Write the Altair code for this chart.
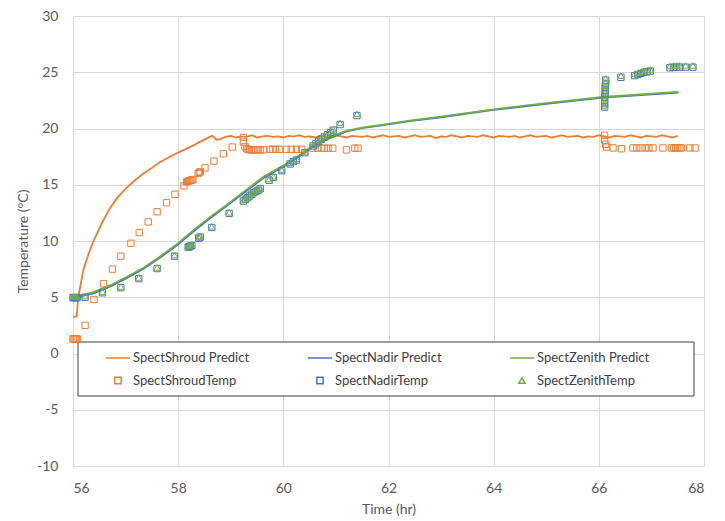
import altair as alt
import pandas as pd

FONT = "Lato"

# ---------------- Predicted lines ----------------
shroud_pred_x = [56.0, 56.07, 56.1, 56.2, 56.3, 56.39, 56.55, 56.7, 56.85, 57.02, 57.18, 57.34,
                 57.5, 57.65, 57.81, 57.97, 58.13, 58.29, 58.45, 58.6, 58.65, 58.73,
                 58.8, 58.9, 59.0, 59.1, 59.2, 59.3, 59.4, 59.5, 59.6, 59.7,
                 59.8, 59.9, 60.0, 60.1, 60.2, 60.3, 60.4, 60.5, 60.6, 60.7,
                 60.8, 60.9, 61.0, 61.1, 61.2, 61.3, 61.4, 61.5, 61.6, 61.7,
                 61.8, 61.9, 62.0, 62.1, 62.2, 62.3, 62.4, 62.5, 62.6, 62.7,
                 62.8, 62.9, 63.0, 63.1, 63.2, 63.3, 63.4, 63.5, 63.6, 63.7,
                 63.8, 63.9, 64.0, 64.1, 64.2, 64.3, 64.4, 64.5, 64.6, 64.7,
                 64.8, 64.9, 65.0, 65.1, 65.2, 65.3, 65.4, 65.5, 65.6, 65.7,
                 65.8, 65.9, 66.0, 66.1, 66.2, 66.3, 66.4, 66.5, 66.6, 66.7,
                 66.8, 66.9, 67.0, 67.1, 67.2, 67.3, 67.4, 67.5]
shroud_pred_y = [3.25, 3.3, 5.0, 7.5, 8.9, 10.0, 11.6, 12.9, 13.9, 14.75, 15.4, 16.0,
                 16.5, 17.0, 17.4, 17.8, 18.15, 18.5, 18.9, 19.25, 19.35, 19.0,
                 19.05, 19.25, 19.35, 19.2, 19.3, 19.25, 19.4, 19.2, 19.3, 19.35,
                 19.25, 19.3, 19.2, 19.35, 19.3, 19.4, 19.25, 19.3, 19.2, 19.35,
                 19.3, 19.25, 19.4, 19.3, 19.2, 19.35, 19.3, 19.25, 19.35, 19.2,
                 19.3, 19.4, 19.25, 19.3, 19.35, 19.2, 19.3, 19.4, 19.25, 19.3,
                 19.35, 19.15, 19.3, 19.25, 19.4, 19.3, 19.2, 19.35, 19.3, 19.25,
                 19.4, 19.3, 19.2, 19.35, 19.3, 19.25, 19.35, 19.2, 19.3, 19.4,
                 19.25, 19.3, 19.35, 19.2, 19.3, 19.4, 19.25, 19.3, 19.35, 19.2,
                 19.3, 19.25, 19.4, 19.3, 19.2, 19.35, 19.3, 19.25, 19.4, 19.3,
                 19.2, 19.35, 19.3, 19.25, 19.4, 19.3, 19.2, 19.35]

env_pred_x = [56.0, 56.39, 56.7, 57.02, 57.35, 57.65, 57.97, 58.29, 58.6, 58.92, 59.17, 59.62,
              60.0, 60.3, 60.57, 60.89, 61.2, 61.52, 61.84, 62.4, 63.0, 64.0, 65.0, 66.08, 67.51]
nadir_pred_y = [4.95, 5.35, 5.95, 6.7, 7.55, 8.5, 9.6, 10.85, 12.0, 13.1, 14.0, 15.6,
                16.6, 17.5, 18.4, 19.15, 19.75, 20.05, 20.25, 20.65, 21.0, 21.65, 22.2, 22.75, 23.2]
zenith_pred_y = [5.0, 5.45, 6.05, 6.8, 7.65, 8.6, 9.7, 10.95, 12.1, 13.2, 14.1, 15.7,
                 16.7, 17.6, 18.5, 19.25, 19.8, 20.1, 20.3, 20.7, 21.05, 21.7, 22.25, 22.8, 23.25]

# ---------------- Measured temperatures ----------------
shroud_temp_x = [56.0, 56.02, 56.04, 56.06, 56.08, 56.23, 56.4, 56.58, 56.75, 56.91, 57.1,
                 57.26, 57.43, 57.6, 57.78, 57.94, 58.11, 58.16, 58.18, 58.2, 58.22, 58.24,
                 58.26, 58.28, 58.38, 58.4, 58.42, 58.51, 58.68, 58.86, 59.03, 59.24, 59.24,
                 59.27, 59.3, 59.33, 59.36, 59.4, 59.44, 59.48, 59.52, 59.56, 59.62, 59.75,
                 59.8, 59.85, 59.93, 60.06, 60.15, 60.25, 60.35, 60.56, 60.65, 60.72, 60.78,
                 60.85, 60.94, 61.2, 61.36, 61.42, 66.11, 66.11, 66.13, 66.15, 66.27, 66.43,
                 66.65, 66.72, 66.8, 66.88, 66.95, 67.03, 67.22, 67.38, 67.42, 67.46, 67.5,
                 67.54, 67.57, 67.73, 67.83]
shroud_temp_y = [1.3, 1.3, 1.3, 1.3, 1.3, 2.5, 4.8, 6.2, 7.5, 8.65, 9.8,
                 10.75, 11.7, 12.6, 13.4, 14.15, 14.9, 15.25, 15.3, 15.33, 15.37, 15.4,
                 15.43, 15.46, 16.0, 16.1, 16.15, 16.5, 17.1, 17.75, 18.35, 19.2, 18.8,
                 18.4, 18.2, 18.15, 18.1, 18.1, 18.1, 18.1, 18.1, 18.1, 18.1, 18.15,
                 18.15, 18.15, 18.15, 18.15, 18.15, 18.15, 18.15, 18.25, 18.25, 18.25, 18.25,
                 18.25, 18.25, 18.1, 18.25, 18.25, 19.4, 18.95, 18.6, 18.35, 18.27, 18.2,
                 18.27, 18.27, 18.27, 18.27, 18.27, 18.27, 18.27, 18.27, 18.27, 18.27, 18.27,
                 18.27, 18.27, 18.27, 18.27]

env_temp_x = [56.0, 56.02, 56.04, 56.06, 56.08, 56.23, 56.56, 56.91, 57.25, 57.6, 57.93,
              58.19, 58.21, 58.23, 58.26, 58.39, 58.42, 58.64, 58.97, 59.24, 59.28, 59.32,
              59.36, 59.4, 59.44, 59.48, 59.52, 59.56, 59.73, 59.81, 59.97, 60.13, 60.19,
              60.25, 60.41, 60.57, 60.62, 60.67, 60.72, 60.78, 60.84, 60.9, 60.95, 61.08,
              61.4, 66.11, 66.11, 66.11, 66.11, 66.12, 66.12, 66.12, 66.13, 66.13, 66.42,
              66.68, 66.74, 66.8, 66.86, 66.92, 66.98, 67.35, 67.42, 67.48, 67.54, 67.65,
              67.79]
nadir_temp_y = [4.97, 4.97, 4.97, 4.97, 4.97, 5.0, 5.4, 5.85, 6.65, 7.55, 8.65,
                9.45, 9.5, 9.55, 9.6, 10.25, 10.35, 11.2, 12.45, 13.55, 13.7, 13.85,
                14.0, 14.15, 14.3, 14.4, 14.5, 14.65, 15.4, 15.65, 16.25, 16.85, 17.05,
                17.2, 17.85, 18.45, 18.65, 18.85, 19.05, 19.25, 19.45, 19.65, 19.85, 20.35,
                21.15, 21.9, 22.2, 22.5, 22.8, 23.1, 23.4, 23.7, 24.0, 24.3, 24.55,
                24.7, 24.8, 24.9, 25.0, 25.05, 25.1, 25.4, 25.45, 25.45, 25.45, 25.45,
                25.45]
zenith_temp_y = [5.05, 5.05, 5.05, 5.05, 5.05, 5.1, 5.5, 5.95, 6.75, 7.65, 8.75,
                 9.55, 9.6, 9.65, 9.7, 10.35, 10.45, 11.3, 12.55, 13.65, 13.8, 13.95,
                 14.1, 14.25, 14.4, 14.5, 14.6, 14.75, 15.5, 15.75, 16.35, 16.95, 17.15,
                 17.3, 17.95, 18.55, 18.75, 18.95, 19.15, 19.35, 19.55, 19.75, 19.95, 20.5,
                 21.3, 22.0, 22.3, 22.6, 22.9, 23.2, 23.5, 23.8, 24.1, 24.45, 24.7,
                 24.85, 24.95, 25.05, 25.15, 25.2, 25.25, 25.55, 25.6, 25.6, 25.6, 25.6,
                 25.6]

series_names = ["SpectShroud Predict", "SpectNadir Predict", "SpectZenith Predict",
                "SpectShroudTemp", "SpectNadirTemp", "SpectZenithTemp"]
series_colors = ["#ED7D31", "#4472C4", "#70AD47", "#ED7D31", "#4472C4", "#70AD47"]
series_shapes = ["stroke", "stroke", "stroke", "square", "square", "triangle-up"]
series_sizes = [576, 576, 576, 40, 40, 40]

x_ticks = [56, 58, 60, 62, 64, 66, 68]
y_ticks = [-10, -5, 0, 5, 10, 15, 20, 25, 30]


def frame(xs, ys, name):
    return pd.DataFrame({"t": xs, "temp": ys, "series": name, "idx": range(len(xs))})


lines_df = pd.concat([
    frame(shroud_pred_x, shroud_pred_y, series_names[0]),
    frame(env_pred_x, nadir_pred_y, series_names[1]),
    frame(env_pred_x, zenith_pred_y, series_names[2]),
], ignore_index=True)

points_df = pd.concat([
    frame(shroud_temp_x, shroud_temp_y, series_names[3]),
    frame(env_temp_x, nadir_temp_y, series_names[4]),
    frame(env_temp_x, zenith_temp_y, series_names[5]),
], ignore_index=True)

minus_fix = "datum.value < 0 ? '-' + abs(datum.value) : '' + datum.value"

x_enc = alt.X("t:Q", scale=alt.Scale(domain=[56, 68], nice=False, zero=False),
              axis=alt.Axis(title="Time (hr)", values=x_ticks, labelPadding=15, titlePadding=7))
y_enc = alt.Y("temp:Q", scale=alt.Scale(domain=[-10, 30], nice=False, zero=False),
              axis=alt.Axis(title="Temperature (°C)", values=y_ticks, labelPadding=15,
                            titlePadding=6, labelExpr=minus_fix))

legend_frame = alt.Chart(pd.DataFrame({"k": [0]})).mark_rect(
    fill="white", stroke="#404040", strokeWidth=1
).encode(x=alt.value(5), x2=alt.value(621), y=alt.value(326), y2=alt.value(380))

lines = alt.Chart(lines_df).mark_line(strokeWidth=1.8).encode(
    x=x_enc, y=y_enc,
    stroke=alt.Stroke("series:N", scale=alt.Scale(domain=series_names[:3], range=series_colors[:3]),
                      legend=None),
    order="idx:Q",
)

leg = alt.Legend(title=None, direction="horizontal", columns=3)

points = alt.Chart(points_df).mark_point(filled=False, strokeWidth=1, opacity=1).encode(
    x=x_enc, y=y_enc,
    color=alt.Color("series:N", scale=alt.Scale(domain=series_names, range=series_colors),
                    legend=leg),
    shape=alt.Shape("series:N", scale=alt.Scale(domain=series_names, range=series_shapes),
                    legend=leg),
    size=alt.Size("series:N", scale=alt.Scale(type="ordinal", domain=series_names, range=series_sizes),
                  legend=leg),
)

chart = alt.layer(legend_frame, lines, points).properties(
    width=631, height=450,
    autosize=alt.AutoSizeParams(type="none"),
    padding={"left": 65, "top": 8, "right": 12, "bottom": 50},
).configure_view(stroke=None).configure_axis(
    grid=True, gridColor="#D9D9D9", gridWidth=1, domain=False, ticks=False, tickSize=0,
    labelFont=FONT, labelFontSize=14, labelColor="#595959",
    titleFont=FONT, titleFontSize=14, titleColor="#595959", titleFontWeight="normal",
).configure_legend(
    orient="none", legendX=32, legendY=329, gridAlign="all",
    columnPadding=55, rowPadding=9, labelFont=FONT, labelFontSize=13, labelColor="#404040",
    labelOffset=2, symbolStrokeWidth=1.5, padding=0,
)

chart.save("out.html", embed_options={"renderer": "svg", "actions": False})
